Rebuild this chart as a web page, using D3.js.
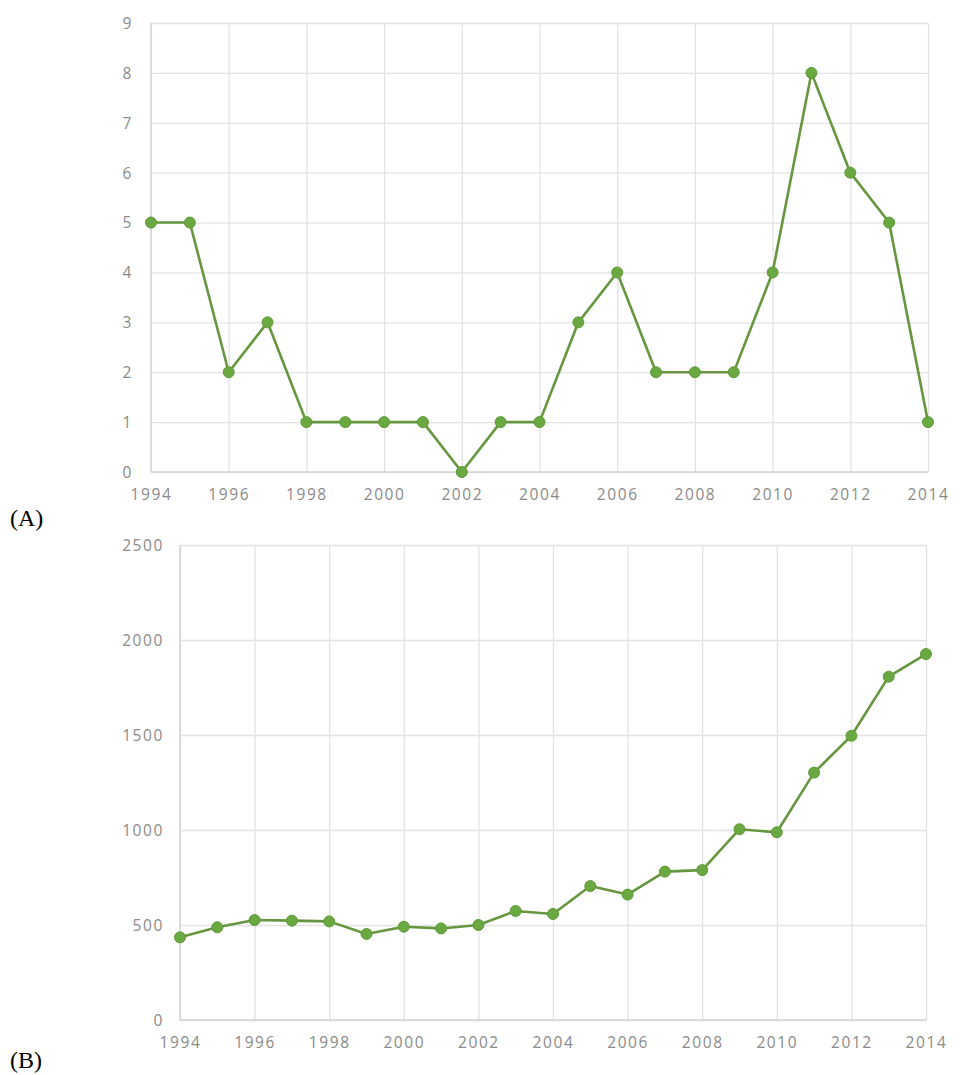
<!DOCTYPE html>
<html>
<head>
<meta charset="utf-8">
<script src="https://cdn.jsdelivr.net/npm/d3@7/dist/d3.min.js"></script>
<style>
  html, body { margin: 0; padding: 0; background: #fff; }
  svg { display: block; }
  .tick text { font-family: "Open Sans", sans-serif; font-size: 15.5px; fill: #8a8a8a; letter-spacing: 1.6px; }
  .panel-label { font-family: "Liberation Serif", "DejaVu Serif", serif; font-size: 24px; fill: #000; }
</style>
</head>
<body>
<svg id="chart" width="969" height="1075"></svg>
<script>
// Years shared by both panels
const years = d3.range(1994, 2015);

// Panel A: annual counts
const seriesA = [5, 5, 2, 3, 1, 1, 1, 1, 0, 1, 1, 3, 4, 2, 2, 2, 4, 8, 6, 5, 1];
const yTicksA = [0, 1, 2, 3, 4, 5, 6, 7, 8, 9];

// Panel B: annual totals
const seriesB = [435, 488, 526, 523, 519, 453, 491, 482, 500, 574, 558, 705, 660, 781, 789, 1004, 988, 1302, 1496, 1807, 1926];
const yTicksB = [0, 500, 1000, 1500, 2000, 2500];

const xTickYears = [1994, 1996, 1998, 2000, 2002, 2004, 2006, 2008, 2010, 2012, 2014];

const lineColor = "#66963f";
const dotColor = "#6aa842";
const gridColor = "#e3e3e3";

const svg = d3.select("#chart");

function drawPanel(cfg) {
  const { left, right, top, bottom, yMax, yTicks, values, label, labelY, yLabelGap } = cfg;
  const x = d3.scaleLinear().domain([1994, 2014]).range([left, right]);
  const y = d3.scaleLinear().domain([0, yMax]).range([bottom, top]);
  const g = svg.append("g");

  // Horizontal gridlines + y labels
  const yAxis = g.append("g")
    .attr("transform", `translate(${left},0)`)
    .call(d3.axisLeft(y).tickValues(yTicks).tickSize(-(right - left)).tickPadding(yLabelGap).tickFormat(d3.format("d")));
  yAxis.select(".domain").remove();
  yAxis.selectAll(".tick line").attr("stroke", gridColor).attr("stroke-width", 1.3);
  yAxis.selectAll(".tick text").attr("dy", "0.35em");

  // Vertical gridlines + x labels
  const xAxis = g.append("g")
    .attr("transform", `translate(0,${bottom})`)
    .call(d3.axisBottom(x).tickValues(xTickYears).tickSize(-(bottom - top)).tickPadding(17).tickFormat(d3.format("d")));
  xAxis.select(".domain").remove();
  xAxis.selectAll(".tick line").attr("stroke", gridColor).attr("stroke-width", 1.3);

  // Axis lines
  g.append("line").attr("x1", left).attr("x2", left).attr("y1", top).attr("y2", bottom)
    .attr("stroke", "#d4d4d4").attr("stroke-width", 1.5);
  g.append("line").attr("x1", left).attr("x2", right).attr("y1", bottom).attr("y2", bottom)
    .attr("stroke", "#d4d4d4").attr("stroke-width", 1.5);

  // Series line
  const line = d3.line().x((d, i) => x(years[i])).y(d => y(d));
  g.append("path").datum(values)
    .attr("d", line)
    .attr("fill", "none")
    .attr("stroke", lineColor)
    .attr("stroke-width", 2.6)
    .attr("stroke-linejoin", "round");

  // Markers
  g.selectAll("circle.pt").data(values).join("circle")
    .attr("class", "pt")
    .attr("cx", (d, i) => x(years[i]))
    .attr("cy", d => y(d))
    .attr("r", 5.5)
    .attr("fill", dotColor)
    .attr("stroke", "#5f9a3a")
    .attr("stroke-width", 1);

  // Panel tag
  svg.append("text").attr("class", "panel-label")
    .attr("x", 10).attr("y", labelY).text(label);
}

drawPanel({ left: 151, right: 928, top: 23, bottom: 472, yMax: 9, yTicks: yTicksA,
  values: seriesA, label: "(A)", labelY: 526, yLabelGap: 18 });
drawPanel({ left: 180, right: 926, top: 545, bottom: 1020, yMax: 2500, yTicks: yTicksB,
  values: seriesB, label: "(B)", labelY: 1068, yLabelGap: 16 });
</script>
</body>
</html>
